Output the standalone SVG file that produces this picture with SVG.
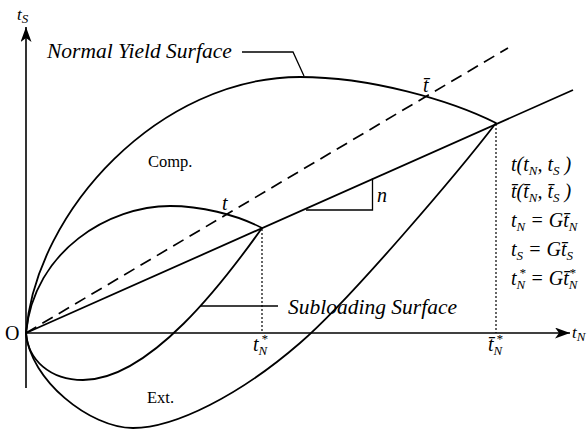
<svg xmlns="http://www.w3.org/2000/svg" width="588" height="432" viewBox="0 0 588 432" font-family="'Liberation Serif', 'DejaVu Serif', serif">
<style>
.ln{fill:none;stroke:#000;stroke-width:1.8;stroke-linejoin:round}
.ax{fill:none;stroke:#000;stroke-width:1.6}
.dot{fill:none;stroke:#000;stroke-width:1.2;stroke-dasharray:2 2}
.dash{fill:none;stroke:#000;stroke-width:1.7;stroke-dasharray:12 7}
.thin{fill:none;stroke:#000;stroke-width:1.3}
text{font-family:'Liberation Serif','DejaVu Serif',serif;fill:#000}
.i{font-style:italic}
.big{font-size:21.5px;font-style:italic}
.f{font-size:20px;font-style:italic}
.sub{font-size:13px}
.up{font-size:16.5px}
.st{font-size:13px;font-style:italic}
</style>
<defs>
<marker id="ah" markerUnits="userSpaceOnUse" markerWidth="16" markerHeight="12" refX="15" refY="5.5" orient="auto">
<path d="M0,0 L15,5.5 L0,11 L4,5.5 z" fill="#000"/>
</marker>
</defs>
<g id="axes">
<line class="ax" x1="26" y1="333" x2="570" y2="333" marker-end="url(#ah)"/>
<line class="ax" x1="26" y1="388" x2="26" y2="27" marker-end="url(#ah)"/>
</g>
<g id="connectors">
<line class="dash" x1="26" y1="333" x2="508" y2="48"/>
<line class="ln" x1="26" y1="333" x2="573" y2="90"/>
<line class="dot" x1="262" y1="229" x2="262" y2="333"/>
<line class="dot" x1="496" y1="124" x2="496" y2="333"/>
<polyline class="thin" points="242,52 293,52 304,76"/>
<line class="thin" x1="200" y1="306" x2="278" y2="306"/>
<polyline class="thin" points="306,210 372.5,210 372.5,178.5"/>
</g>
<g id="normal-yield-surface">
<path class="ln" d="M26,333 C36,210 160,77 300,77 C370,77 450,100 496,123 C460,170 350,300 300,343 C240,395 175,428 133,428 C90,428 30,380 26,333"/>
</g>
<g id="subloading-surface">
<path class="ln" d="M26,333 C34,250 110,206 170,206 C200,206 235,214 262,228 C225,280 150,380 83,380 C50,380 28,360 26,333"/>
</g>
<g id="labels">
<text x="17" y="20" class="i" font-size="17">t<tspan class="sub" dy="3">S</tspan></text>
<text x="572" y="338" class="i" font-size="17">t<tspan class="sub" dy="3">N</tspan></text>
<text x="5" y="340" font-size="20">O</text>
<text x="47" y="58" class="big">Normal Yield Surface</text>
<text x="288" y="314" class="big">Subloading Surface</text>
<text x="148" y="167" class="up">Comp.</text>
<text x="147" y="403" class="up">Ext.</text>
<text x="377" y="202" class="f">n</text>
<text x="222" y="210" class="f">t</text>
<text x="423" y="92" class="f">t̄</text>
<text x="253" y="351" class="f">t<tspan class="sub" dy="4">N</tspan></text>
<text x="261" y="343" class="st">*</text>
<text x="488" y="351" class="f">t̄<tspan class="sub" dy="4">N</tspan></text>
<text x="496" y="343" class="st">*</text>
</g>
<g id="formulas">
<text x="511" y="171" class="f">t(t<tspan class="sub" dy="4">N</tspan><tspan dy="-4">, t</tspan><tspan class="sub" dy="4">S</tspan><tspan dy="-4"> )</tspan></text>
<text x="511" y="198" class="f">t̄(t̄<tspan class="sub" dy="4">N</tspan><tspan dy="-4">, t̄</tspan><tspan class="sub" dy="4">S</tspan><tspan dy="-4"> )</tspan></text>
<text x="511" y="227" class="f">t<tspan class="sub" dy="4">N</tspan><tspan dy="-4"> = Gt̄</tspan><tspan class="sub" dy="4">N</tspan></text>
<text x="511" y="256" class="f">t<tspan class="sub" dy="4">S</tspan><tspan dy="-4"> = Gt̄</tspan><tspan class="sub" dy="4">S</tspan></text>
<text x="511" y="285" class="f">t<tspan class="sub" dy="4">N</tspan><tspan dy="-4"> = Gt̄</tspan><tspan class="sub" dy="4">N</tspan></text>
<text x="519" y="277" class="st">*</text>
<text x="569" y="277" class="st">*</text>
</g>
</svg>
